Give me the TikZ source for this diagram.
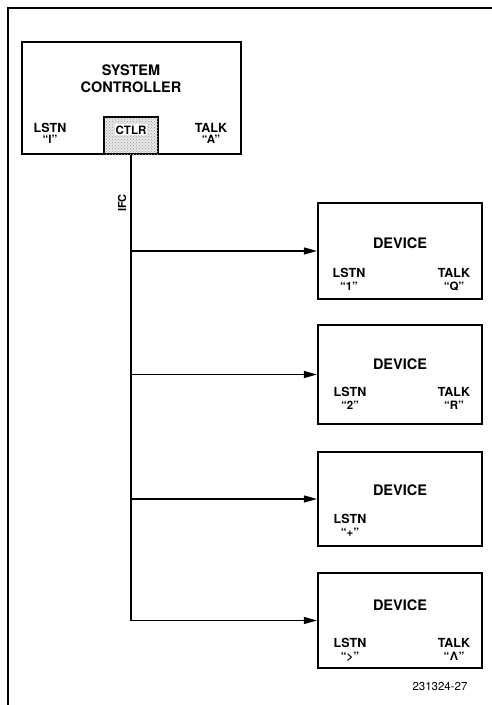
\documentclass[tikz,border=0pt]{standalone}
\usepackage{fontspec}
\setmainfont{TeX Gyre Heros}
\usetikzlibrary{arrows.meta,patterns}
\begin{document}
\begin{tikzpicture}[x=1pt,y=-1pt,
  box/.style={draw,line width=2.2pt,rectangle,inner sep=0pt},
  big/.style={font=\fontsize{14.5}{17}\selectfont\bfseries,anchor=base,inner sep=0pt},
  lbl/.style={font=\fontsize{12.5}{14}\selectfont\bfseries,anchor=base,inner sep=0pt},
  code/.style={font=\fontsize{11.5}{12}\selectfont\bfseries,anchor=base,inner sep=0pt},
  bus/.style={line width=1.6pt},
  arr/.style={line width=1.3pt,-{Triangle[length=13pt,width=7pt]}}]
\useasboundingbox (0,0) rectangle (492,705);
% outer frame
\coordinate (fbl) at (8,705);
\coordinate (ftl) at (8,8);
\coordinate (ftr) at (492,8);
\draw[line width=1.6pt] (fbl) -- (ftl) -- (ftr);
% system controller
\node[box,line width=2.6pt,minimum width=219pt,minimum height=112pt] (sc) at (131.5,98) {};
\node[big] (sys) at (131,75) {SYSTEM};
\node[big] (con) at (131,92) {CONTROLLER};
\node[lbl] (scl) at (50,132) {LSTN};
\node[code] (scl2) at (50,143) {“I”};
\node[lbl] (sct) at (211,132) {TALK};
\node[code] (sct2) at (211,143) {“A”};
\node[box,line width=2.2pt,minimum width=54pt,minimum height=37pt,fill=gray!18,postaction={pattern=crosshatch dots,pattern color=gray!80}] (ctlr) at (131,135.5) {};
\node[font=\fontsize{11.5}{12}\selectfont\bfseries,anchor=base,fill=white,inner sep=1pt] (ctlrt) at (131,134) {CTLR};
% devices
\node[box,minimum width=164pt,minimum height=96pt] (d1) at (400,251) {};
\node[box,minimum width=164pt,minimum height=99pt] (d2) at (400,374.5) {};
\node[box,minimum width=164pt,minimum height=94pt] (d3) at (400,499) {};
\node[box,minimum width=164pt,minimum height=95pt] (d4) at (400,620.5) {};
% device 1
\node[big] (d1n) at (400,248) {DEVICE};
\node[lbl] (d1l) at (349,277) {LSTN};
\node[code] (d1l2) at (349,290) {“1”};
\node[lbl] (d1t) at (454,277) {TALK};
\node[code] (d1t2) at (454,290) {“Q”};
% device 2
\node[big] (d2n) at (400,369) {DEVICE};
\node[lbl] (d2l) at (350,396) {LSTN};
\node[code] (d2l2) at (350,409) {“2”};
\node[lbl] (d2t) at (454,396) {TALK};
\node[code] (d2t2) at (454,409) {“R”};
% device 3
\node[big] (d3n) at (400,495) {DEVICE};
\node[lbl] (d3l) at (350,523) {LSTN};
\node[code] (d3l2) at (350,536) {“+”};
% device 4
\node[big] (d4n) at (400,610) {DEVICE};
\node[lbl] (d4l) at (350,647) {LSTN};
\node[code] (d4l2) at (350,660) {“>”};
\node[lbl] (d4t) at (454,647) {TALK};
\node[code] (d4t2) at (454,660) {“\kern0.5pt Λ\kern0.5pt”};
% IFC bus
\coordinate (corner) at (ctlr.south |- d4.west);
\draw[bus] (ctlr.south) -- (corner);
\node[code,font=\fontsize{11}{12}\selectfont\bfseries,rotate=90,anchor=center] (ifc) at (122,203) {IFC};
\draw[arr] (ctlr.south |- d1.west) -- (d1.west);
\draw[arr] (ctlr.south |- d2.west) -- (d2.west);
\draw[arr] (ctlr.south |- d3.west) -- (d3.west);
\draw[arr] (corner) -- (d4.west);
% figure number
\node[font=\fontsize{11.5}{13}\selectfont,anchor=base,inner sep=0pt] (fig) at (440,690) {231324-27};
\end{tikzpicture}
\end{document}
